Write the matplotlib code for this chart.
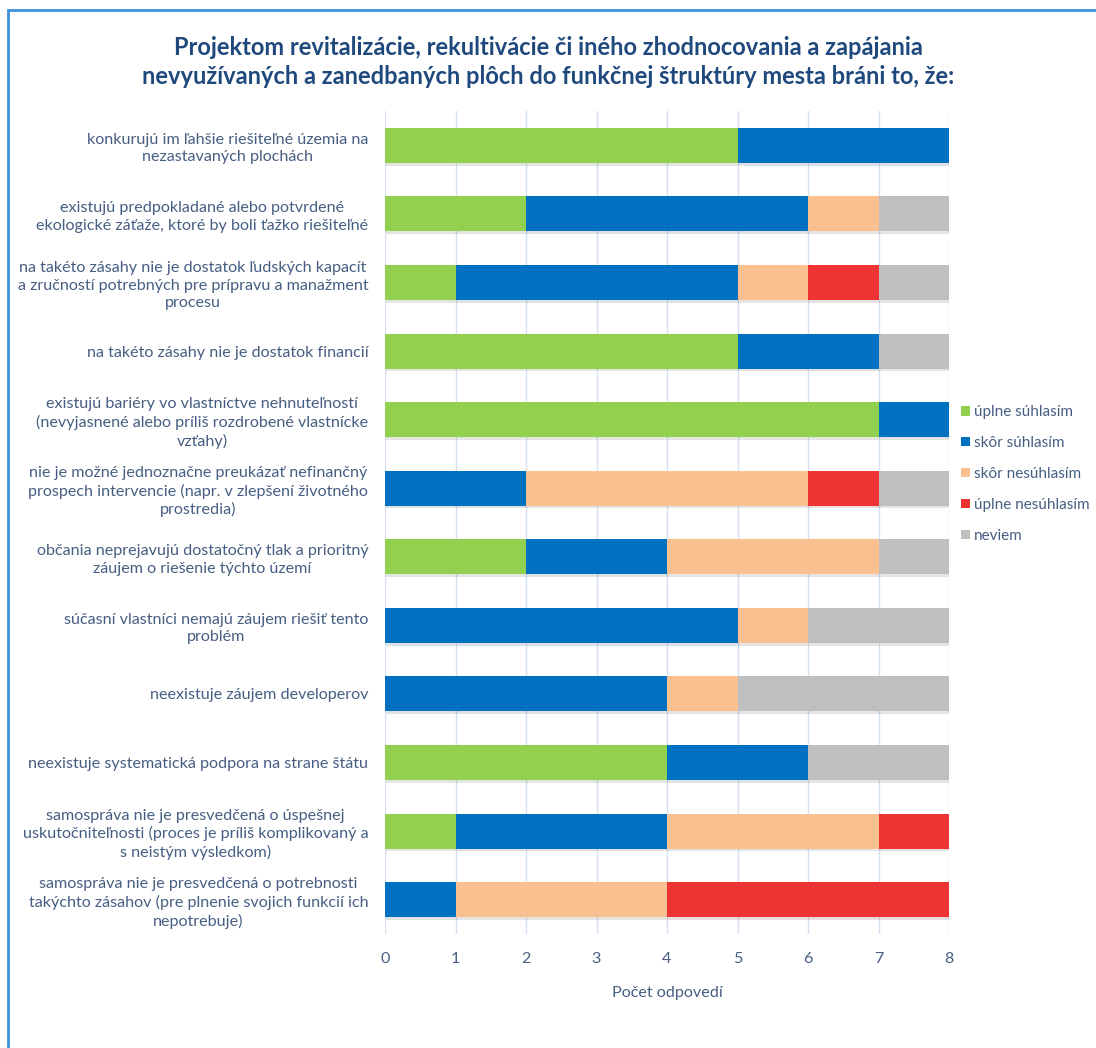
import numpy as np
import matplotlib
matplotlib.use('Agg')
import matplotlib.pyplot as plt
import matplotlib.patheffects as pe
from matplotlib.patches import Rectangle, Patch

categories = [
    "konkurujú im ľahšie riešiteľné územia na\nnezastavaných plochách",
    "existujú predpokladané alebo potvrdené\nekologické záťaže, ktoré by boli ťažko riešiteľné",
    "na takéto zásahy nie je dostatok ľudských kapacít\na zručností potrebných pre prípravu a manažment\nprocesu",
    "na takéto zásahy nie je dostatok financií",
    "existujú bariéry vo vlastníctve nehnuteľností\n(nevyjasnené alebo príliš rozdrobené vlastnícke\nvzťahy)",
    "nie je možné jednoznačne preukázať nefinančný\nprospech intervencie (napr. v zlepšení životného\nprostredia)",
    "občania neprejavujú dostatočný tlak a prioritný\nzáujem o riešenie týchto území",
    "súčasní vlastníci nemajú záujem riešiť tento\nproblém",
    "neexistuje záujem developerov",
    "neexistuje systematická podpora na strane štátu",
    "samospráva nie je presvedčená o úspešnej\nuskutočniteľnosti (proces je príliš komplikovaný a\ns neistým výsledkom)",
    "samospráva nie je presvedčená o potrebnosti\ntakýchto zásahov (pre plnenie svojich funkcií ich\nnepotrebuje)",
]

uplne_suhlasim = [5, 2, 1, 5, 7, 0, 2, 0, 0, 4, 1, 0]
skor_suhlasim = [3, 4, 4, 2, 1, 2, 2, 5, 4, 2, 3, 1]
skor_nesuhlasim = [0, 1, 1, 0, 0, 4, 3, 1, 1, 0, 3, 3]
uplne_nesuhlasim = [0, 0, 1, 0, 0, 1, 0, 0, 0, 0, 1, 4]
neviem = [0, 1, 1, 1, 0, 1, 1, 2, 3, 2, 0, 0]

series_names = ["úplne súhlasím", "skôr súhlasím", "skôr nesúhlasím", "úplne nesúhlasím", "neviem"]
colors = ["#92D050", "#0070C0", "#FAC090", "#EE3333", "#BFBFBF"]

title = ("Projektom revitalizácie, rekultivácie či iného zhodnocovania a zapájania\n"
         "nevyužívaných a zanedbaných plôch do funkčnej štruktúry mesta bráni to, že:")

plt.rcParams['font.family'] = ['Lato', 'DejaVu Sans']
txt_col = "#465E82"
fs = 11.6

fig = plt.figure(figsize=(10.96, 10.48), dpi=100)
ax = fig.add_axes([385 / 1096, 1 - 934 / 1048, 564 / 1096, 823 / 1048])

y = np.arange(len(categories))
left = np.zeros(len(categories))
shadow = [pe.SimplePatchShadow(offset=(1, -2), alpha=0.13), pe.Normal()]
for name, vals, c in zip(series_names,
                         [uplne_suhlasim, skor_suhlasim, skor_nesuhlasim, uplne_nesuhlasim, neviem],
                         colors):
    vals = np.array(vals, dtype=float)
    bars = ax.barh(y, vals, left=left, height=0.51, color=c, label=name, zorder=3)
    for b, v in zip(bars, vals):
        if v > 0:
            b.set_path_effects(shadow)
    left += vals

ax.set_xlim(0, 8)
ax.set_ylim(len(categories) - 0.5, -0.5)
ax.set_xticks(range(9))
ax.set_yticks(y)
ax.set_yticklabels(categories)
for lbl in ax.get_yticklabels():
    lbl.set_multialignment('center')
    lbl.set_linespacing(1.3)
ax.tick_params(axis='y', length=0, pad=12, labelsize=fs, labelcolor=txt_col)
ax.tick_params(axis='x', length=0, pad=13, labelsize=fs, labelcolor=txt_col)
ax.grid(axis='x', color='#D5E0F0', linewidth=1, zorder=0)
for s in ax.spines.values():
    s.set_visible(False)
ax.set_xlabel("Počet odpovedí", fontsize=fs, color=txt_col, labelpad=14)

fig.text(0.5, 1 - 62 / 1048, title, ha='center', va='center', fontsize=17, fontweight='bold',
         color='#1F497D', linespacing=1.3)

handles = [Patch(facecolor=c, edgecolor='none') for c in colors]
fig.legend(handles, series_names, loc='center left', bbox_to_anchor=(955 / 1096, 1 - 474 / 1048),
           frameon=False, fontsize=11, labelcolor=txt_col, handlelength=0.55, handleheight=0.55,
           handletextpad=0.3, labelspacing=1.1, borderaxespad=0)

# blue frame of the chart area (only top and left visible in the crop)
fig.patches.append(Rectangle((8 / 1096, -0.2), 1.5, 1.2 - 10 / 1048, transform=fig.transFigure,
                             fill=False, edgecolor='#3D8FE0', linewidth=2, clip_on=False))

fig.savefig("out.png", dpi=100)
